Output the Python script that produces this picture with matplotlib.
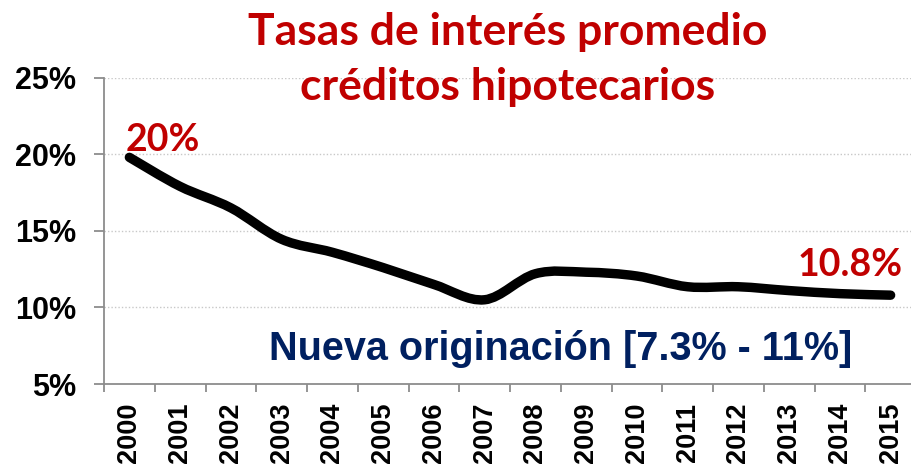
import matplotlib
matplotlib.use("Agg")
import matplotlib.pyplot as plt
from matplotlib.path import Path
from matplotlib.patches import PathPatch
import numpy as np

years = [str(y) for y in range(2000, 2016)]
rates = [19.8, 17.9, 16.5, 14.45, 13.6, 12.6, 11.5, 10.5, 12.2, 12.3, 12.05, 11.35, 11.35, 11.1, 10.9, 10.8]
y_ticks = [5, 10, 15, 20, 25]

title_1 = "Tasas de interés promedio"
title_2 = "créditos hipotecarios"
first_label = "20%"
last_label = "10.8%"
note = "Nueva originación [7.3% - 11%]"

RED = "#C00000"
NAVY = "#002060"
AXIS_GREY = "#8C8C8C"

fig = plt.figure(figsize=(9.11, 4.69), dpi=100)
ax = fig.add_axes([104 / 911, 85 / 469, 812 / 911, 306.3 / 469])
ax.set_xlim(-0.5, 15.5)
ax.set_ylim(5, 25)

# smooth line like Excel's "smoothed line" (Catmull-Rom as cubic Bezier)
x = np.arange(len(rates), dtype=float)
y = np.array(rates)
verts = [(x[0], y[0])]
codes = [Path.MOVETO]
for i in range(len(x) - 1):
    p0 = np.array([x[max(i - 1, 0)], y[max(i - 1, 0)]])
    p1 = np.array([x[i], y[i]])
    p2 = np.array([x[i + 1], y[i + 1]])
    p3 = np.array([x[min(i + 2, len(x) - 1)], y[min(i + 2, len(x) - 1)]])
    c1 = p1 + (p2 - p0) / 6
    c2 = p2 - (p3 - p1) / 6
    verts += [tuple(c1), tuple(c2), tuple(p2)]
    codes += [Path.CURVE4] * 3
ax.add_patch(PathPatch(Path(verts, codes), fill=False, edgecolor="black",
                       lw=6.8, capstyle="round", joinstyle="round", zorder=3))

# grid
for v in y_ticks[1:]:
    ax.axhline(v, color="#C8C8C8", lw=1.0, ls=(0, (1, 1.5)), zorder=1)

for s in ["top", "right"]:
    ax.spines[s].set_visible(False)
for s in ["left", "bottom"]:
    ax.spines[s].set_color(AXIS_GREY)
    ax.spines[s].set_linewidth(1.3)

ax.set_yticks(y_ticks)
ax.set_yticklabels([f"{v}%" for v in y_ticks], fontfamily="Liberation Sans",
                   fontweight="bold", fontsize=22)
ax.tick_params(axis="y", length=7, width=1.3, color=AXIS_GREY, pad=13)

ax.set_xticks(x)
ax.set_xticklabels(years, rotation=90, fontfamily="Liberation Sans",
                   fontweight="bold", fontsize=19.5, va="top")
ax.tick_params(axis="x", which="major", length=0, pad=13.5)
ax.set_xticks(np.arange(-0.5, 15.6, 1), minor=True)
ax.tick_params(axis="x", which="minor", length=6, width=1.3, color=AXIS_GREY)

# annotations
ax.text(-0.07, 20.23, first_label, color=RED, fontfamily="Lato",
        fontweight="bold", fontsize=27, ha="left", va="baseline")
ax.text(15.24, 12.05, last_label, color=RED, fontfamily="Lato",
        fontweight="bold", fontsize=27, ha="right", va="baseline")
ax.text(2.75, 6.57, note, color=NAVY, fontfamily="Liberation Sans",
        fontweight="bold", fontsize=28.5, ha="left", va="baseline")

fig.text(508 / 911, 1 - 45 / 469, title_1, color=RED, fontfamily="Lato",
         fontweight="bold", fontsize=32, ha="center", va="baseline")
fig.text(508 / 911, 1 - 100 / 469, title_2, color=RED, fontfamily="Lato",
         fontweight="bold", fontsize=32, ha="center", va="baseline")

fig.savefig("out.png", dpi=100)
